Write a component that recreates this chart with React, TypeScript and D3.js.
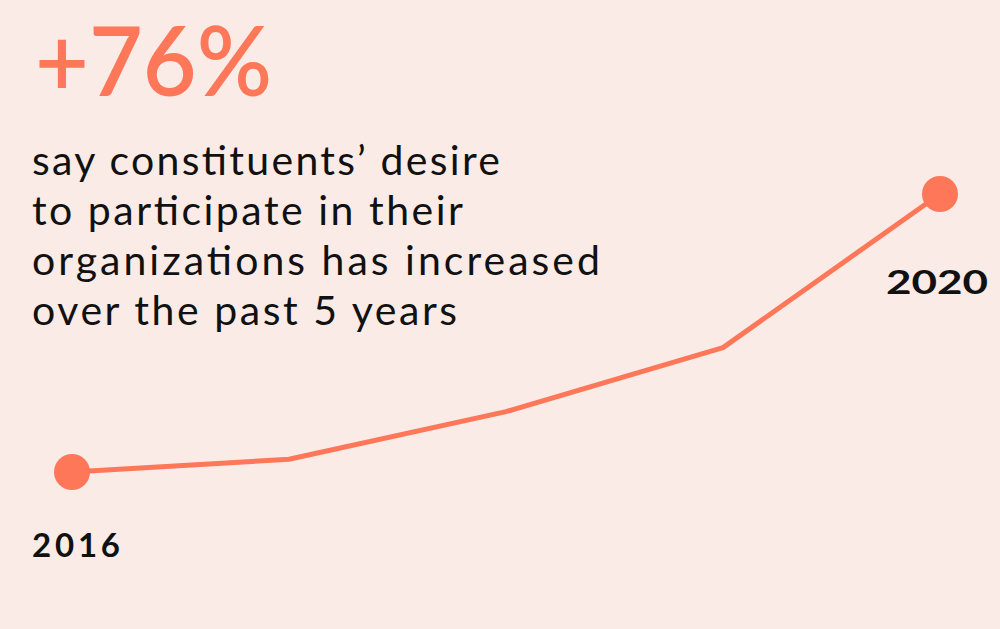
import React from "react";
import * as d3 from "d3";

const years = [2016, 2017, 2018, 2019, 2020];
const increase = [0, 3.5, 16.5, 34, 76];
const headline = "+76%";
const bodyLines = [
  "say constituents’ desire",
  "to participate in their",
  "organizations has increased",
  "over the past 5 years",
];
const endLabels = ["2016", "2020"];

const W = 1000;
const H = 629;
const BG = "#faebe7";
const CORAL = "#ff7759";
const FONT = "Lato, 'Open Sans', sans-serif";

export default function App() {
  const x = d3.scaleLinear().domain([2016, 2020]).range([72, 940]);
  const y = d3.scaleLinear().domain([0, 76]).range([472, 194]);
  const data = years.map((yr, i) => ({ yr, v: increase[i] }));
  const line = d3
    .line<{ yr: number; v: number }>()
    .x((d) => x(d.yr))
    .y((d) => y(d.v));
  const first = data[0];
  const last = data[data.length - 1];
  const lineWidths = [468, 431, 568, 425];

  return (
    <div style={{ position: "fixed", left: 0, top: 0 }}>
      <svg width={W} height={H} style={{ display: "block", background: BG }}>
        <rect x={0} y={0} width={W} height={H} fill={BG} />
        <text
          x={35}
          y={96}
          fill={CORAL}
          fontFamily={FONT}
          fontSize={97}
          fontWeight={600}
          textLength={237}
          lengthAdjust="spacingAndGlyphs"
        >
          {headline}
        </text>
        {bodyLines.map((t, i) => (
          <text
            key={t}
            x={32}
            y={175 + i * 50}
            fill="#111"
            fontFamily={FONT}
            fontSize={41}
            fontWeight={400}
            textLength={lineWidths[i]}
            lengthAdjust="spacing"
          >
            {t}
          </text>
        ))}
        <path
          d={line(data) || ""}
          fill="none"
          stroke={CORAL}
          strokeWidth={5}
          strokeLinejoin="round"
        />
        {[first, last].map((d) => (
          <circle key={d.yr} cx={x(d.yr)} cy={y(d.v)} r={18} fill={CORAL} />
        ))}
        <text
          x={32}
          y={557}
          fill="#111"
          fontFamily={FONT}
          fontSize={33}
          fontWeight={700}
          textLength={88}
          lengthAdjust="spacing"
        >
          {endLabels[0]}
        </text>
        <text
          x={886}
          y={294}
          fill="#111"
          fontFamily={FONT}
          fontSize={32}
          fontWeight={700}
          textLength={102}
          lengthAdjust="spacingAndGlyphs"
        >
          {endLabels[1]}
        </text>
      </svg>
    </div>
  );
}
